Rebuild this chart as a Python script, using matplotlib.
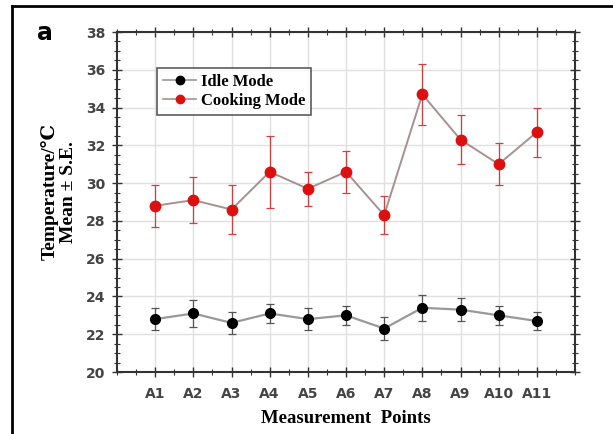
import matplotlib
matplotlib.use("Agg")
import matplotlib.pyplot as plt
from matplotlib.ticker import MultipleLocator
from matplotlib.lines import Line2D

categories = ["A1", "A2", "A3", "A4", "A5", "A6", "A7", "A8", "A9", "A10", "A11"]
idle_mean = [22.8, 23.1, 22.6, 23.1, 22.8, 23.0, 22.3, 23.4, 23.3, 23.0, 22.7]
idle_se = [0.6, 0.7, 0.6, 0.5, 0.6, 0.5, 0.6, 0.7, 0.6, 0.5, 0.5]
cook_mean = [28.8, 29.1, 28.6, 30.6, 29.7, 30.6, 28.3, 34.7, 32.3, 31.0, 32.7]
cook_se = [1.1, 1.2, 1.3, 1.9, 0.9, 1.1, 1.0, 1.6, 1.3, 1.1, 1.3]

serif = ["Liberation Serif", "DejaVu Serif"]

fig = plt.figure(figsize=(6.13, 4.34), dpi=100)
ax = fig.add_axes([117/613, 1-372/434, (575-117)/613, (372-32)/434])

x = list(range(1, len(categories)+1))

ax.errorbar(x, idle_mean, yerr=idle_se, fmt='none', ecolor='#555555', elinewidth=0.9,
            capsize=3, capthick=0.9, zorder=3)
ax.plot(x, idle_mean, '-', color='#999999', lw=1.6, zorder=2)
ax.plot(x, idle_mean, 'o', color='black', ms=7, zorder=4)

ax.errorbar(x, cook_mean, yerr=cook_se, fmt='none', ecolor='#d04040', elinewidth=0.9,
            capsize=3, capthick=0.9, zorder=3)
ax.plot(x, cook_mean, '-', color='#a89090', lw=1.4, zorder=2)
ax.plot(x, cook_mean, 'o', color='#dd1010', ms=7.5, zorder=4)

ax.set_xlim(0, 12)
ax.set_ylim(20, 38)
ax.set_xticks(x)
ax.set_xticklabels(categories)
ax.xaxis.set_minor_locator(MultipleLocator(0.5))
ax.yaxis.set_major_locator(MultipleLocator(2))
ax.yaxis.set_minor_locator(MultipleLocator(0.5))
ax.grid(True, which='major', color='#e0e0e0', lw=1.0, zorder=0)
ax.set_axisbelow(True)

ax.tick_params(axis='both', which='major', direction='inout', length=7, width=1.0,
               labelsize=10, labelcolor='#444444', color='#333333')
ax.tick_params(axis='x', which='major', pad=7)
ax.tick_params(axis='y', which='major', pad=5)
ax.tick_params(axis='both', which='minor', direction='inout', length=4, width=0.8, color='#333333')
ax.tick_params(top=True, right=True, which='both')
for s in ax.spines.values():
    s.set_linewidth(1.5)
    s.set_color('#333333')
for lbl in ax.get_xticklabels() + ax.get_yticklabels():
    lbl.set_fontweight('bold')

ax.set_xlabel("Measurement  Points", fontsize=13.5, fontweight='bold', family=serif, labelpad=7)
ax.set_ylabel("Temperature/\u2103\nMean \u00b1 S.E.", fontsize=14, fontweight='bold',
              family=serif, linespacing=1.15)
ax.yaxis.set_label_coords(-0.087, 0.53)

handles = [Line2D([0], [0], color='#999999', lw=1.2, marker='o', mfc='black', mec='black', ms=6),
           Line2D([0], [0], color='#a89090', lw=1.2, marker='o', mfc='#dd1010', mec='#dd1010', ms=6)]
leg = ax.legend(handles, ["Idle Mode", "Cooking Mode"], loc='upper left',
                bbox_to_anchor=((157-117)/458, 1-(68-32)/340), borderaxespad=0,
                frameon=True, fancybox=False,
                edgecolor='#333333', prop={'family': serif, 'weight': 'bold', 'size': 12},
                handlelength=2.0, borderpad=0.35, labelspacing=0.2, handletextpad=0.3)
leg.get_frame().set_linewidth(1.2)

fig.text(45/613, 1-33/434, "a", fontsize=17, fontweight='bold', ha='center', va='center')

# outer frame lines (top and left)
fig.add_artist(Line2D([12/613, 12/613], [0, 1-6/434], color='black', lw=2.0, transform=fig.transFigure))
fig.add_artist(Line2D([12/613, 1], [1-6/434, 1-6/434], color='black', lw=2.0, transform=fig.transFigure))

fig.savefig("out.png", dpi=100)
